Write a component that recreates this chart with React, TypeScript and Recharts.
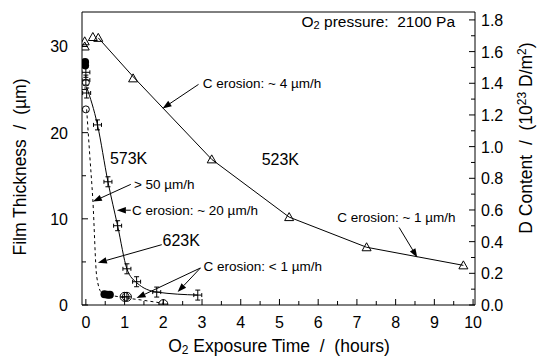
import React from "react";
import { ComposedChart, Line, Scatter, XAxis, YAxis, ReferenceLine, ReferenceDot } from "recharts";

const FONT = "'Liberation Sans', Arial, Helvetica, sans-serif";
const PRE = { whiteSpace: "pre" } as React.CSSProperties;

// 523K - open triangles (thickness in um)
const t523 = [-0.03, -0.03, 0.18, 0.32, 1.22, 3.25, 5.25, 7.25, 9.75];
const h523 = [30.6, 30.0, 31.1, 31.0, 26.3, 16.9, 10.2, 6.7, 4.6];
const fitT523 = [0.32, 1.22, 3.25, 5.25, 7.25, 9.75];
const fitH523 = [31.0, 26.5, 16.9, 10.2, 6.7, 4.6];

// 573K - crosses with error caps
const t573 = [0, 0, 0.02, 0.3, 0.57, 0.82, 1.06, 1.31, 1.83, 2.89];
const h573 = [27.0, 26.1, 24.6, 20.9, 14.3, 9.2, 4.2, 2.7, 1.5, 1.15];
const fitT573 = [0.02, 0.3, 0.57, 0.82, 1.06, 1.31, 1.83, 2.89];
const fitH573 = [25.3, 20.9, 14.3, 9.2, 4.2, 2.6, 1.5, 1.15];

// 623K - circles
const tOpen623 = [0, 0];
const hOpen623 = [22.7, 25.8];
const tFill623 = [-0.02, -0.02, 0.48, 0.56, 0.62];
const hFill623 = [28.2, 27.8, 1.25, 1.2, 1.2];
const tCross623 = [1.0, 1.06, 2.0];
const hCross623 = [0.95, 0.95, 0.1];
const fitT623 = [0.02, 0.1, 0.18, 0.28, 0.4, 1.0, 1.4, 2.0];
const fitH623 = [22.7, 17.4, 12.2, 3.3, 1.5, 0.85, 0.6, 0.2];

const hourTicks = [0, 0.5, 1, 1.5, 2, 2.5, 3, 3.5, 4, 4.5, 5, 5.5, 6, 6.5, 7, 7.5, 8, 8.5, 9, 9.5, 10];
const thickTicks = [0, 5, 10, 15, 20, 25, 30];
const contentTicks = [0, 0.1, 0.2, 0.3, 0.4, 0.5, 0.6, 0.7, 0.8, 0.9, 1.0, 1.1, 1.2, 1.3, 1.4, 1.5, 1.6, 1.7, 1.8];

const zip = (xs: number[], ys: number[]) => xs.map((x, i) => ({ x, y: ys[i] }));

const Triangle = ({ cx, cy }: any) => (
  <polygon points={`${cx},${cy - 4.5} ${cx - 4.5},${cy + 3.5} ${cx + 4.5},${cy + 3.5}`} fill="none" stroke="#000" strokeWidth={1} />
);
const CapCross = ({ cx, cy }: any) => (
  <g stroke="#000" strokeWidth={1}>
    <line x1={cx - 4} y1={cy} x2={cx + 4} y2={cy} />
    <line x1={cx} y1={cy - 5} x2={cx} y2={cy + 5} />
    <line x1={cx - 2.5} y1={cy - 5} x2={cx + 2.5} y2={cy - 5} />
    <line x1={cx - 2.5} y1={cy + 5} x2={cx + 2.5} y2={cy + 5} />
    <line x1={cx - 4} y1={cy - 2} x2={cx - 4} y2={cy + 2} />
    <line x1={cx + 4} y1={cy - 2} x2={cx + 4} y2={cy + 2} />
  </g>
);
const OpenCircle = ({ cx, cy }: any) => <circle cx={cx} cy={cy} r={3.5} fill="none" stroke="#000" />;
const FilledCircle = ({ cx, cy }: any) => <circle cx={cx} cy={cy} r={4} fill="#000" />;
const CrossCircle = ({ cx, cy }: any) => (
  <g stroke="#000" fill="none">
    <circle cx={cx} cy={cy} r={4.5} />
    <line x1={cx - 4.5} y1={cy} x2={cx + 4.5} y2={cy} />
    <line x1={cx} y1={cy - 4.5} x2={cx} y2={cy + 4.5} />
  </g>
);

const Arrow = (p: any) => {
  const { x1, y1, x2, y2 } = p;
  const a = Math.atan2(y2 - y1, x2 - x1);
  const L = 9, W = 3.2;
  const bx = x2 - L * Math.cos(a), by = y2 - L * Math.sin(a);
  const px = -Math.sin(a) * W, py = Math.cos(a) * W;
  return (
    <g>
      <line x1={x1} y1={y1} x2={bx} y2={by} stroke="#000" strokeWidth={1} />
      <polygon points={`${x2},${y2} ${bx + px},${by + py} ${bx - px},${by - py}`} fill="#000" />
    </g>
  );
};

const note = (content: React.ReactNode, size: number) => (p: any) => (
  <text x={p.cx} y={p.cy} fontFamily={FONT} fontSize={size} fill="#000" style={PRE}>{content}</text>
);

const arrows = [
  [2.91, 25.6, 1.98, 22.8],
  [1.16, 14.0, 0.18, 12.0],
  [1.16, 11.0, 0.8, 11.0],
  [1.96, 7.0, 0.31, 4.9],
  [2.96, 4.3, 1.31, 0.8],
  [2.96, 4.3, 2.37, 1.5],
  [8.09, 9.0, 8.56, 5.5],
];

const xTick = (p: any) => {
  const v = p.payload.value;
  const major = Number.isInteger(v);
  return (
    <g>
      <line x1={p.x} x2={p.x} y1={305} y2={305 - (major ? 6 : 4)} stroke="#000" />
      {major && <text x={p.x} y={328} textAnchor="middle" fontFamily={FONT} fontSize={16} fill="#000">{v}</text>}
    </g>
  );
};
const topTick = (p: any) => <line x1={p.x} x2={p.x} y1={12} y2={Number.isInteger(p.payload.value) ? 18 : 16} stroke="#000" />;
const leftTick = (p: any) => {
  const v = p.payload.value;
  const major = v % 10 === 0;
  return (
    <g>
      <line x1={82} x2={82 + (major ? 6 : 4)} y1={p.y} y2={p.y} stroke="#000" />
      {major && <text x={68} y={p.y + 6} textAnchor="end" fontFamily={FONT} fontSize={16} fill="#000">{v}</text>}
    </g>
  );
};
const rightTick = (p: any) => {
  const v = p.payload.value;
  const major = Math.round(v * 10) % 2 === 0;
  return (
    <g>
      <line x1={475} x2={475 - (major ? 6 : 4)} y1={p.y} y2={p.y} stroke="#000" />
      {major && <text x={481} y={p.y + 6} textAnchor="start" fontFamily={FONT} fontSize={16} fill="#000">{v.toFixed(1)}</text>}
    </g>
  );
};

export default function App() {
  return (
    <div style={{ position: "absolute", left: 0, top: 0, width: 538, height: 358, background: "#fff" }}>
      <ComposedChart width={538} height={358} margin={{ top: 11, right: 0, bottom: 0, left: 0 }}>
        <XAxis xAxisId="b" dataKey="x" type="number" domain={[-0.1, 10.05]} allowDataOverflow ticks={hourTicks} interval={0}
          tickLine={false} tickSize={0} tick={xTick} height={53} stroke="#000"
          label={() => (
            <text x={279} y={352} textAnchor="middle" fontFamily={FONT} fontSize={17.5} fill="#000" style={PRE}>
              O<tspan fontSize={12} dy={2}>2</tspan><tspan dy={-2}> Exposure Time  /  (hours)</tspan>
            </text>
          )} />
        <XAxis xAxisId="t" orientation="top" type="number" domain={[-0.1, 10.05]} allowDataOverflow ticks={hourTicks} interval={0}
          tickLine={false} tickSize={0} tick={topTick} height={1} stroke="#000" />
        <YAxis yAxisId="l" type="number" domain={[0, 34]} allowDataOverflow ticks={thickTicks} interval={0}
          tickLine={false} tickSize={0} tick={leftTick} width={82} stroke="#000"
          label={() => (
            <text x={26} y={167} transform="rotate(-90 26 167)" textAnchor="middle" fontFamily={FONT} fontSize={17.5} fill="#000" style={PRE}>
              Film Thickness  /  (µm)
            </text>
          )} />
        <YAxis yAxisId="r" orientation="right" type="number" domain={[0, 1.85]} allowDataOverflow ticks={contentTicks} interval={0}
          tickLine={false} tickSize={0} tick={rightTick} width={63} stroke="#000"
          label={() => (
            <text x={532} y={138} transform="rotate(-90 532 138)" textAnchor="middle" fontFamily={FONT} fontSize={17.5} fill="#000" style={PRE}>
              D Content  /  (10<tspan fontSize={12} dy={-6}>23</tspan><tspan dy={6}> D/m</tspan><tspan fontSize={12} dy={-6}>2</tspan><tspan dy={6}>)</tspan>
            </text>
          )} />

        <Line xAxisId="b" yAxisId="l" data={zip(fitT523, fitH523)} dataKey="y" type="linear" stroke="#000" strokeWidth={1} dot={false} isAnimationActive={false} />
        <Line xAxisId="b" yAxisId="l" data={zip(fitT573, fitH573)} dataKey="y" type="monotone" stroke="#000" strokeWidth={1} dot={false} isAnimationActive={false} />
        <Line xAxisId="b" yAxisId="l" data={zip(fitT623, fitH623)} dataKey="y" type="monotone" stroke="#000" strokeWidth={1} strokeDasharray="3 3" dot={false} isAnimationActive={false} />

        <Scatter xAxisId="b" yAxisId="l" data={zip(t523, h523)} dataKey="y" shape={Triangle} isAnimationActive={false} />
        <Scatter xAxisId="b" yAxisId="l" data={zip(t573, h573)} dataKey="y" shape={CapCross} isAnimationActive={false} />
        <Scatter xAxisId="b" yAxisId="l" data={zip(tOpen623, hOpen623)} dataKey="y" shape={OpenCircle} isAnimationActive={false} />
        <Scatter xAxisId="b" yAxisId="l" data={zip(tFill623, hFill623)} dataKey="y" shape={FilledCircle} isAnimationActive={false} />
        <Scatter xAxisId="b" yAxisId="l" data={zip(tCross623, hCross623)} dataKey="y" shape={CrossCircle} isAnimationActive={false} />

        {arrows.map((a, i) => (
          <ReferenceLine key={i} xAxisId="b" yAxisId="l" segment={[{ x: a[0], y: a[1] }, { x: a[2], y: a[3] }]} shape={Arrow} ifOverflow="visible" />
        ))}

        <ReferenceDot xAxisId="b" yAxisId="l" x={5.57} y={32.3} ifOverflow="visible"
          shape={note(<>O<tspan fontSize={11} dy={2}>2</tspan><tspan dy={-2}> pressure:  2100 Pa</tspan></>, 15.5)} />
        <ReferenceDot xAxisId="b" yAxisId="l" x={3.02} y={25.2} ifOverflow="visible" shape={note("C erosion: ~ 4 µm/h", 13.5)} />
        <ReferenceDot xAxisId="b" yAxisId="l" x={4.54} y={16.2} ifOverflow="visible" shape={note("523K", 16)} />
        <ReferenceDot xAxisId="b" yAxisId="l" x={0.62} y={16.4} ifOverflow="visible" shape={note("573K", 16)} />
        <ReferenceDot xAxisId="b" yAxisId="l" x={1.24} y={13.5} ifOverflow="visible" shape={note("> 50 µm/h", 13.5)} />
        <ReferenceDot xAxisId="b" yAxisId="l" x={1.19} y={10.5} ifOverflow="visible" shape={note("C erosion: ~ 20 µm/h", 13.5)} />
        <ReferenceDot xAxisId="b" yAxisId="l" x={1.98} y={6.9} ifOverflow="visible" shape={note("623K", 16)} />
        <ReferenceDot xAxisId="b" yAxisId="l" x={3.04} y={3.95} ifOverflow="visible" shape={note("C erosion: < 1 µm/h", 13.5)} />
        <ReferenceDot xAxisId="b" yAxisId="l" x={6.49} y={9.65} ifOverflow="visible" shape={note("C erosion: ~ 1 µm/h", 13.5)} />
      </ComposedChart>
    </div>
  );
}
